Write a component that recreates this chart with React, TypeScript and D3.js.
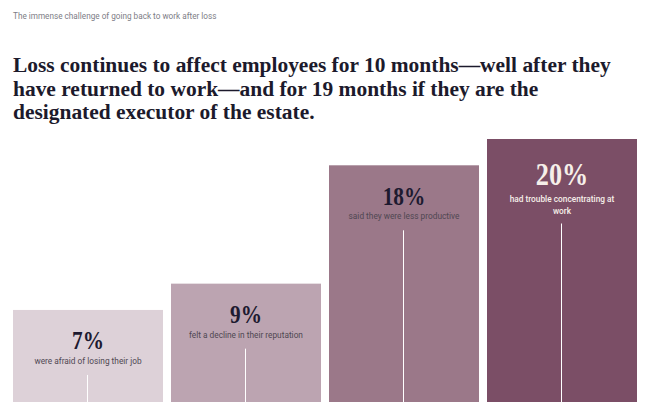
import * as d3 from "d3";

const kicker = "The immense challenge of going back to work after loss";
const headline = [
  "Loss continues to affect employees for 10 months\u2014well after they",
  "have returned to work\u2014and for 19 months if they are the",
  "designated executor of the estate.",
];

const categories = ["job", "reputation", "productivity", "concentration"];
const values = [7, 9, 18, 20];
const descriptions = [
  ["were afraid of losing their job"],
  ["felt a decline in their reputation"],
  ["said they were less productive"],
  ["had trouble concentrating at", "work"],
];
const colors = ["#ddd1d8", "#bca4b1", "#9b7889", "#7b4e66"];
const highlighted = "concentration";

const WIDTH = 659;
const HEIGHT = 412;
const MARGIN = { left: 13, right: 22, bottom: 10 };
const TOP_VALUE_Y = 139;

const SERIF = "'Liberation Serif', 'Times New Roman', serif";
const SANS = "Roboto, 'Noto Sans', sans-serif";

export default function App() {
  const x = d3
    .scaleBand<string>()
    .domain(categories)
    .range([MARGIN.left, WIDTH - MARGIN.right])
    .paddingInner(8 / 158);

  const y = d3
    .scaleLinear()
    .domain([0, d3.max(values) ?? 0])
    .range([HEIGHT - MARGIN.bottom, TOP_VALUE_Y]);

  const bottom = y(0);

  return (
    <svg
      width={WIDTH}
      height={HEIGHT}
      style={{ position: "absolute", left: 0, top: 0, background: "#fff" }}
    >
      <text x={13} y={19} fontFamily={SANS} fontSize={8.2} fill="#7d7d86">
        {kicker}
      </text>

      <g transform="translate(13,0) scale(0.975,1)">
        {headline.map((line, i) => (
          <text
            key={i}
            x={0}
            y={72.5 + i * 23.5}
            fontFamily={SERIF}
            fontWeight={700}
            fontSize={22}
            fill="#1c1a2c"
          >
            {line}
          </text>
        ))}
      </g>

      {categories.map((c, i) => {
        const x0 = x(c) ?? 0;
        const cx = x0 + x.bandwidth() / 2;
        const top = y(values[i]);
        const hi = c === highlighted;
        const numY = top + (hi ? 46 : 39.5);
        const descY = top + (hi ? 63 : 54);
        const lineGap = 11.5;
        const ruleTop = descY + (descriptions[i].length - 1) * lineGap + (hi ? 10 : 11);
        return (
          <g key={c}>
            <rect
              x={x0}
              y={top}
              width={x.bandwidth()}
              height={bottom - top}
              fill={colors[i]}
            />
            <text
              transform={`translate(${cx},${numY}) scale(0.82,1)`}
              textAnchor="middle"
              fontFamily={SERIF}
              fontWeight={700}
              fontSize={hi ? 32 : 26}
              fill={hi ? "#f6efe9" : "#1d1a30"}
            >
              {values[i]}%
            </text>
            {descriptions[i].map((d, j) => (
              <text
                key={j}
                x={cx}
                y={descY + j * lineGap}
                textAnchor="middle"
                fontFamily={SANS}
                fontWeight={hi ? 500 : 400}
                fontSize={8.3}
                fill={hi ? "#f6efe9" : "#4f4752"}
              >
                {d}
              </text>
            ))}
            <line
              x1={cx - 0.5}
              x2={cx - 0.5}
              y1={ruleTop}
              y2={bottom}
              stroke="#ffffff"
              strokeWidth={1}
            />
          </g>
        );
      })}
    </svg>
  );
}
